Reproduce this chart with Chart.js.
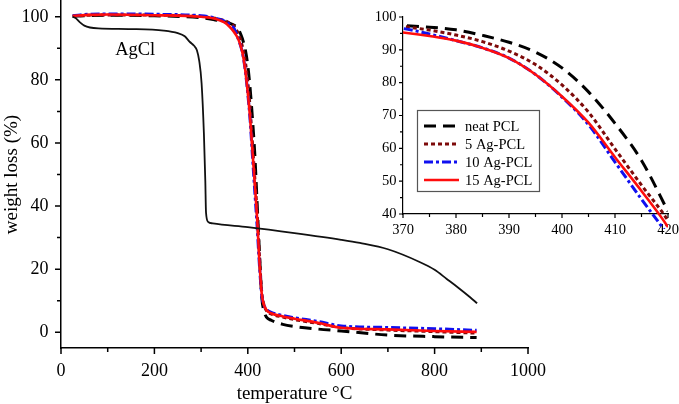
<!DOCTYPE html>
<html><head><meta charset="utf-8">
<script src="https://cdn.jsdelivr.net/npm/chart.js@4/dist/chart.umd.min.js"></script>
<style>
html,body{margin:0;padding:0;background:#fff;}
#wrap{position:relative;width:679px;height:404px;overflow:hidden;background:#fff;}
#main{position:absolute;left:0;top:0;}
#inset{position:absolute;left:340px;top:0;}
</style></head><body>
<div id="wrap"><canvas id="main" width="679" height="404"></canvas><canvas id="inset" width="339" height="250"></canvas></div>
<script>
// ---------------- data ----------------
const temps = [25, 60, 100, 200, 300, 330, 350, 360, 370, 375, 380, 385, 390, 395, 400, 405, 410, 415, 420, 425, 430, 435, 440, 450, 475, 500, 550, 600, 700, 800, 890];
const neatPCL = [100.2, 100.4, 100.5, 100.3, 99.7, 99.0, 98.4, 98.0, 97.4, 96.9, 96.1, 94.4, 92.3, 89.3, 84.5, 77.2, 67.6, 56.3, 40.8, 25, 11, 6.5, 4.8, 3.8, 2.5, 1.8, 1.0, 0.4, -0.9, -1.4, -1.7];
const ag5PCL = [100.2, 100.5, 100.6, 100.5, 100.1, 99.5, 98.8, 98.1, 97.1, 96.0, 94.5, 92.5, 89.6, 85.5, 79.3, 71.0, 59.8, 48.8, 38.0, 24, 12.5, 8.5, 6.8, 5.8, 4.8, 4.0, 2.8, 1.5, 0.7, 0.2, -0.3];
const ag10PCL = [100.3, 100.8, 100.9, 100.8, 100.3, 99.6, 98.6, 97.7, 96.5, 94.8, 92.8, 90.6, 87.5, 82.5, 75.6, 67.2, 55.8, 44.5, 33.5, 21, 11.5, 8.5, 7.2, 6.3, 5.3, 4.6, 3.4, 2.0, 1.5, 1.1, 0.6];
const ag15PCL = [100.3, 100.6, 100.7, 100.5, 100.0, 99.4, 98.2, 97.0, 95.3, 94.2, 92.8, 90.6, 87.5, 82.5, 75.8, 67.8, 57.3, 47.0, 36.0, 22, 12, 8.5, 7, 6, 5, 4.3, 3, 1.4, 0.9, 0.4, 0.1];
const agclTemps = [25, 32, 40, 50, 62, 80, 150, 220, 250, 265, 276, 285, 291, 296, 301, 306, 309, 310.5, 315, 325, 400, 500, 600, 640, 700, 769, 800, 826, 850, 876, 891];
const agclValues = [100, 99.5, 98.3, 97.2, 96.6, 96.3, 96.1, 95.6, 94.8, 93.8, 92, 90.8, 89.4, 86, 79, 63, 48, 38, 35, 34.5, 33.3, 31.4, 29.3, 28.3, 26.3, 22.2, 19.8, 16.9, 14.2, 11.1, 9.2];

const seriesNames = ['neat PCL', '5 Ag-PCL', '10 Ag-PCL', '15 Ag-PCL'];
const agclName = 'AgCl';

const mainXTicks = [0, 200, 400, 600, 800, 1000];
const mainXLabels = ['0', '200', '400', '600', '800', '1000'];
const mainXMinor = [100, 300, 500, 700, 900];
const mainYTicks = [0, 20, 40, 60, 80, 100];
const mainYLabels = ['0', '20', '40', '60', '80', '100'];
const mainYMinor = [10, 30, 50, 70, 90];

const insetXTicks = [370, 380, 390, 400, 410, 420];
const insetXLabels = ['370', '380', '390', '400', '410', '420'];
const insetXMinor = [375, 385, 395, 405, 415];
const insetYTicks = [40, 50, 60, 70, 80, 90, 100];
const insetYLabels = ['40', '50', '60', '70', '80', '90', '100'];
const insetYMinor = [45, 55, 65, 75, 85, 95];

// ---------------- styling ----------------
const FAM = '"Liberation Serif", "Times New Roman", serif';
Chart.defaults.font.family = FAM;
Chart.defaults.color = '#000';

const styles = [
  {color: '#000000', dash: [12, 7], width: 3, order: 4},
  {color: '#7d0a0a', dash: [4, 3], width: 3, order: 3},
  {color: '#1010f0', dash: [9, 3, 3, 3], width: 3, order: 2},
  {color: '#ff0d0d', dash: [], width: 2.6, order: 1}
];
const seriesValues = [neatPCL, ag5PCL, ag10PCL, ag15PCL];

function makeDatasets(clip) {
  return seriesValues.map((vals, i) => ({
    label: seriesNames[i],
    data: temps.map((t, k) => ({x: t, y: vals[k]})),
    borderColor: styles[i].color,
    borderDash: styles[i].dash,
    borderWidth: styles[i].width,
    order: styles[i].order,
    pointRadius: 0,
    fill: false,
    cubicInterpolationMode: 'monotone',
    clip: clip
  }));
}

function tickPlugin(cfg) {
  return {
    id: 'minorMajorTicks',
    afterDraw(chart) {
      const ctx = chart.ctx, ca = chart.chartArea;
      const xs = chart.scales.x, ys = chart.scales.y;
      ctx.save();
      ctx.strokeStyle = '#000';
      ctx.lineWidth = cfg.lw;
      ctx.beginPath();
      cfg.xMajor.forEach(v => { const p = xs.getPixelForValue(v); ctx.moveTo(p, ca.bottom); ctx.lineTo(p, ca.bottom + cfg.major); });
      cfg.xMinor.forEach(v => { const p = xs.getPixelForValue(v); ctx.moveTo(p, ca.bottom); ctx.lineTo(p, ca.bottom + cfg.minor); });
      cfg.yMajor.forEach(v => { const p = ys.getPixelForValue(v); ctx.moveTo(ca.left, p); ctx.lineTo(ca.left - cfg.major, p); });
      cfg.yMinor.forEach(v => { const p = ys.getPixelForValue(v); ctx.moveTo(ca.left, p); ctx.lineTo(ca.left - cfg.minor, p); });
      ctx.stroke();
      ctx.restore();
    }
  };
}

const agclLabelPlugin = {
  id: 'agclLabel',
  afterDraw(chart) {
    const ctx = chart.ctx;
    ctx.save();
    ctx.font = '18.5px ' + FAM;
    ctx.fillStyle = '#000';
    ctx.textBaseline = 'alphabetic';
    ctx.fillText(agclName, chart.scales.x.getPixelForValue(116), chart.scales.y.getPixelForValue(88));
    ctx.restore();
  }
};

const insetLegendPlugin = {
  id: 'insetLegend',
  afterDraw(chart) {
    const ctx = chart.ctx;
    const ox = 417 - 340, oy = 110, w = 122, h = 81;
    ctx.save();
    ctx.fillStyle = '#fff';
    ctx.fillRect(ox, oy, w, h);
    ctx.strokeStyle = '#555';
    ctx.lineWidth = 1.2;
    ctx.strokeRect(ox + 0.5, oy + 0.5, w, h);
    ctx.font = '14.5px ' + FAM;
    ctx.textBaseline = 'middle';
    ctx.fillStyle = '#000';
    chart.data.datasets.forEach((ds, i) => {
      const y = oy + 16 + i * 18;
      ctx.save();
      ctx.strokeStyle = ds.borderColor;
      ctx.lineWidth = ds.borderWidth;
      ctx.setLineDash(ds.borderDash);
      ctx.beginPath();
      ctx.moveTo(ox + 7, y);
      ctx.lineTo(ox + 42, y);
      ctx.stroke();
      ctx.restore();
      ctx.fillText(ds.label, ox + 48, y + 1);
    });
    ctx.restore();
  }
};

function setTicks(values) { return s => { s.ticks = values.map(v => ({value: v})); }; }
function fitV(w) { return s => { s.width = w; s.paddingTop = 0; s.paddingBottom = 0; }; }
function fitH(h) { return s => { s.height = h; s.paddingLeft = 0; s.paddingRight = 0; }; }

// ---------------- main chart ----------------
const mainDatasets = makeDatasets(undefined);
mainDatasets.push({
  label: agclName,
  data: agclTemps.map((t, k) => ({x: t, y: agclValues[k]})),
  borderColor: '#111',
  borderWidth: 1.8,
  order: 0,
  pointRadius: 0,
  fill: false,
  cubicInterpolationMode: 'monotone'
});

new Chart(document.getElementById('main'), {
  type: 'line',
  data: {datasets: mainDatasets},
  options: {
    responsive: false,
    animation: false,
    layout: {autoPadding: false, padding: {left: 0, top: 1, right: 151, bottom: 0}},
    plugins: {legend: {display: false}, title: {display: false}, tooltip: {enabled: false}},
    scales: {
      x: {
        type: 'linear', min: 0, max: 1000,
        afterBuildTicks: setTicks(mainXTicks),
        afterFit: fitH(56),
        grid: {display: true, drawOnChartArea: false, drawTicks: false},
        border: {display: true, color: '#000', width: 1.5},
        ticks: {padding: 12, autoSkip: false, maxRotation: 0, font: {size: 18}, color: '#000',
                callback: (v, i) => mainXLabels[i]},
        title: {display: true, text: 'temperature °C', color: '#000', font: {size: 19, lineHeight: 1}, padding: {top: 0, bottom: 0}}
      },
      y: {
        type: 'linear', min: -5, max: 105,
        afterBuildTicks: setTicks(mainYTicks),
        afterFit: fitV(61),
        grid: {display: true, drawOnChartArea: false, drawTicks: false},
        border: {display: true, color: '#000', width: 1.5},
        ticks: {padding: 12.5, autoSkip: false, font: {size: 18}, color: '#000',
                callback: (v, i) => mainYLabels[i]},
        title: {display: true, text: 'weight loss (%)', color: '#000', font: {size: 19, lineHeight: 1}, padding: {top: 3, bottom: 0}}
      }
    }
  },
  plugins: [tickPlugin({lw: 1.5, major: 6, minor: 4, xMajor: mainXTicks, xMinor: mainXMinor, yMajor: mainYTicks, yMinor: mainYMinor}), agclLabelPlugin]
});

// ---------------- inset chart ----------------
new Chart(document.getElementById('inset'), {
  type: 'line',
  data: {datasets: makeDatasets({left: 0, top: 0, right: 0, bottom: 15})},
  options: {
    responsive: false,
    animation: false,
    layout: {autoPadding: false, padding: {left: 0, top: 17, right: 11, bottom: 0}},
    plugins: {legend: {display: false}, title: {display: false}, tooltip: {enabled: false}},
    scales: {
      x: {
        type: 'linear', min: 370, max: 420,
        afterBuildTicks: setTicks(insetXTicks),
        afterFit: fitH(36),
        grid: {display: true, drawOnChartArea: false, drawTicks: false},
        border: {display: true, color: '#000', width: 1.2},
        ticks: {padding: 7.5, autoSkip: false, maxRotation: 0, font: {size: 14.5}, color: '#000',
                callback: (v, i) => insetXLabels[i]}
      },
      y: {
        type: 'linear', min: 40, max: 100,
        afterBuildTicks: setTicks(insetYTicks),
        afterFit: fitV(63),
        grid: {display: true, drawOnChartArea: false, drawTicks: false},
        border: {display: true, color: '#000', width: 1.2},
        ticks: {padding: 6.5, autoSkip: false, font: {size: 14.5}, color: '#000',
                callback: (v, i) => insetYLabels[i]}
      }
    }
  },
  plugins: [tickPlugin({lw: 1.2, major: 4, minor: 3, xMajor: insetXTicks, xMinor: insetXMinor, yMajor: insetYTicks, yMinor: insetYMinor}), insetLegendPlugin]
});
</script>
</body></html>
